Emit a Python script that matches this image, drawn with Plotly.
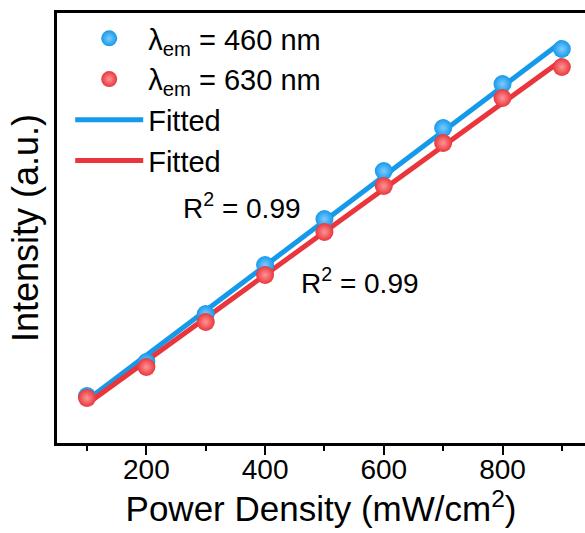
import numpy as np
import plotly.graph_objects as go

# Data
power_density = [100, 200, 300, 400, 500, 600, 700, 800, 900]
intensity_460 = [47, 81, 129, 178, 224, 272, 315, 359, 394]
intensity_630 = [45, 76, 121, 168, 211, 257, 300, 345, 376]
x_tick_vals = [200, 400, 600, 800]
r2_labels = ["R<sup>2</sup> = 0.99", "R<sup>2</sup> = 0.99"]

BLUE = "#1599ea"
RED = "#e8363c"
FONT = "Arial, Liberation Sans, sans-serif"

x = np.array(power_density, dtype=float)
fit_b = np.polyval(np.polyfit(x, intensity_460, 1), x)
fit_r = np.polyval(np.polyfit(x, intensity_630, 1), x)

fig = go.Figure()
fig.add_trace(go.Scatter(x=power_density, y=fit_b, mode="lines", name="Fitted",
                         line=dict(color=BLUE, width=5), legendrank=3))
fig.add_trace(go.Scatter(x=power_density, y=fit_r, mode="lines", name="Fitted",
                         line=dict(color=RED, width=5), legendrank=4))
fig.add_trace(go.Scatter(x=power_density, y=intensity_460, mode="markers",
                         name="λ<sub>em</sub> = 460 nm", legendrank=1,
                         marker=dict(size=18, color=BLUE,
                                     gradient=dict(type="radial", color="#7fcbff"),
                                     line=dict(width=0))))
fig.add_trace(go.Scatter(x=power_density, y=intensity_630, mode="markers",
                         name="λ<sub>em</sub> = 630 nm", legendrank=2,
                         marker=dict(size=18, color=RED,
                                     gradient=dict(type="radial", color="#ff9496"),
                                     line=dict(width=0))))

fig.add_annotation(x=258, y=237, xref="x", yref="y", text=r2_labels[0],
                   showarrow=False, xanchor="left", yanchor="middle",
                   font=dict(size=28, color="black", family=FONT))
fig.add_annotation(x=457, y=162, xref="x", yref="y", text=r2_labels[1],
                   showarrow=False, xanchor="left", yanchor="middle",
                   font=dict(size=28, color="black", family=FONT))

fig.update_layout(
    width=585, height=533,
    margin=dict(l=57, r=0, t=13, b=90),
    paper_bgcolor="white", plot_bgcolor="white",
    font=dict(family=FONT, color="black"),
    showlegend=True,
    legend=dict(x=0.025, y=1.0, xanchor="left", yanchor="top",
                font=dict(size=29, family=FONT), bgcolor="rgba(0,0,0,0)",
                itemwidth=68, tracegroupgap=0),
    xaxis=dict(range=[49.4, 939], showgrid=False, zeroline=False,
               showline=True, linecolor="black", linewidth=3, mirror=True,
               ticks="outside", ticklen=9, tickwidth=2, tickcolor="black",
               tickvals=x_tick_vals, tickfont=dict(size=28, family=FONT),
               ticklabelstandoff=-10,
               minor=dict(ticks="outside", ticklen=5, tickwidth=2, dtick=100,
                          tick0=0, tickcolor="black", showgrid=False),
               title=dict(text="Power Density (mW/cm<sup>2</sup>)",
                          font=dict(size=35, family=FONT), standoff=7)),
    yaxis=dict(range=[0, 430], showgrid=False, zeroline=False,
               showline=True, linecolor="black", linewidth=3, mirror=False,
               ticks="", showticklabels=False,
               title=dict(text="Intensity (a.u.)",
                          font=dict(size=36, family=FONT), standoff=5)),
)

fig.write_html("out.html")
